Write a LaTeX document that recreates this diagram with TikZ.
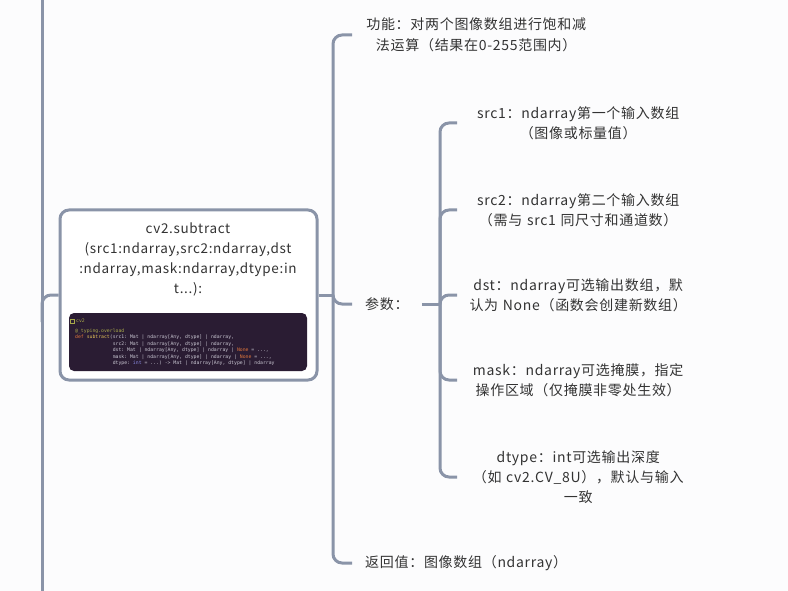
\documentclass[tikz,border=0pt]{standalone}
\usepackage{fontspec}
\usetikzlibrary{positioning,calc}
\newfontfamily\cjk[LetterSpace=5]{Noto Sans CJK SC}
\setmonofont{DejaVu Sans Mono}
\definecolor{mapline}{HTML}{8A94A8}
\definecolor{maptext}{HTML}{333333}
\definecolor{mapbg}{HTML}{FCFCFD}
\definecolor{codebg}{HTML}{2A1C33}
\definecolor{codefg}{HTML}{C9C6D2}
\definecolor{codedeco}{HTML}{A8A84A}
\definecolor{codekw}{HTML}{E0763C}
\definecolor{codefn}{HTML}{E3C25A}
\definecolor{codetype}{HTML}{8C8CE6}
\tikzset{
  % mind map
  link/.style={draw=mapline,line width=3pt,rounded corners=9pt},
  topic/.style={draw=mapline,fill=white,line width=3pt,rounded corners=9pt,
                minimum width=257pt,minimum height=170pt,inner sep=0pt},
  toptext/.style={font=\cjk\fontsize{13.5}{20}\selectfont,text=maptext,
                  align=center,inner sep=0pt},
  branch/.style={font=\cjk\fontsize{14}{20.5}\selectfont,text=maptext,
                 anchor=west,inner xsep=13pt,inner ysep=2pt},
  leaf/.style={font=\cjk\fontsize{14}{20}\selectfont,text=maptext,align=center,
               anchor=west,inner xsep=6pt,inner ysep=2pt,text width=230pt},
  % code snippet
  codebox/.style={fill=codebg,rounded corners=5pt,minimum width=238pt,
                  minimum height=58pt,inner sep=0pt},
  codetext/.style={font=\ttfamily\fontsize{4.8}{6.5}\selectfont,text=codefg,
                   align=left,inner sep=0pt},
}
\newcommand{\ind}{\phantom{def subtract(}}
\begin{document}
\begin{tikzpicture}[x=1pt,y=-1pt]
\useasboundingbox (0,0) rectangle (788,591);
\fill[mapbg] (0,0) rectangle (788,591);
  % central topic
  \node[topic] (main) at (188.5,295) {};
  \node[toptext] (title) at (188,259) {cv2.subtract\\(src1:ndarray,src2:ndarray,dst\\:ndarray,mask:ndarray,dtype:in\\t...):};
  \node[codebox] (code) at (188,342) {};
  \draw[codedeco,line width=0.4pt] (70.5,319.2) rectangle (74.5,322.8);
  \node[codetext,anchor=west,text=codedeco] (tag) at (76,321) {cv2};
  \node[codetext,anchor=north west] (lines) at (75,328.5) {%
\textcolor{codedeco}{@\_typing.overload}\\
\textcolor{codekw}{def} \textcolor{codefn}{subtract}(src1: Mat | ndarray[Any, dtype] | ndarray,\\
\ind src2: Mat | ndarray[Any, dtype] | ndarray,\\
\ind dst: Mat | ndarray[Any, dtype] | ndarray | \textcolor{codekw}{None} = ...,\\
\ind mask: Mat | ndarray[Any, dtype] | ndarray | \textcolor{codekw}{None} = ...,\\
\ind dtype: \textcolor{codetype}{int} = ...) -> Mat | ndarray[Any, dtype] | ndarray};
  % first level
  \node[branch,align=center,inner xsep=4pt,text width=240pt] (fn) at (352,35) {功能：对两个图像数组进行饱和减\\法运算（结果在0-255范围内）};
  \node[branch] (params) at (352,304) {参数：};
  \node[branch] (ret) at (352,563) {返回值：图像数组（ndarray）};
  % parameters
  \node[leaf] (src1) at (457,123) {src1：ndarray第一个输入数组\\（图像或标量值）};
  \node[leaf] (src2) at (457,210) {src2：ndarray第二个输入数组\\（需与 src1 同尺寸和通道数）};
  \node[leaf] (dst) at (457,295) {dst：ndarray可选输出数组，默\\认为 None（函数会创建新数组）};
  \node[leaf] (mask) at (457,380) {mask：ndarray可选掩膜，指定\\操作区域（仅掩膜非零处生效）};
  \node[leaf] (dtype) at (457,477) {dtype：int可选输出深度\\（如 cv2.CV\_8U），默认与输入\\一致};
  % connectors
  \coordinate (ttop) at (42,0);
  \coordinate (tbot) at (42,591);
  \coordinate (tj) at (42,322);
  \coordinate (mj) at (333,295);
  \coordinate (pj) at (440,304);
  \draw[link] (ttop) -- (tbot);
  \draw[link] (tj) |- (main.west);
  \draw[link] (main.east) -- (mj);
  \draw[link] (mj) |- (fn.west);
  \draw[link] (mj) |- (params.west);
  \draw[link] (mj) |- (ret.west);
  \draw[link] (params.east) -- (pj);
  \foreach \n in {src1,src2,dst,mask,dtype}
    \draw[link] (pj) |- (\n.west);
\end{tikzpicture}
\end{document}
